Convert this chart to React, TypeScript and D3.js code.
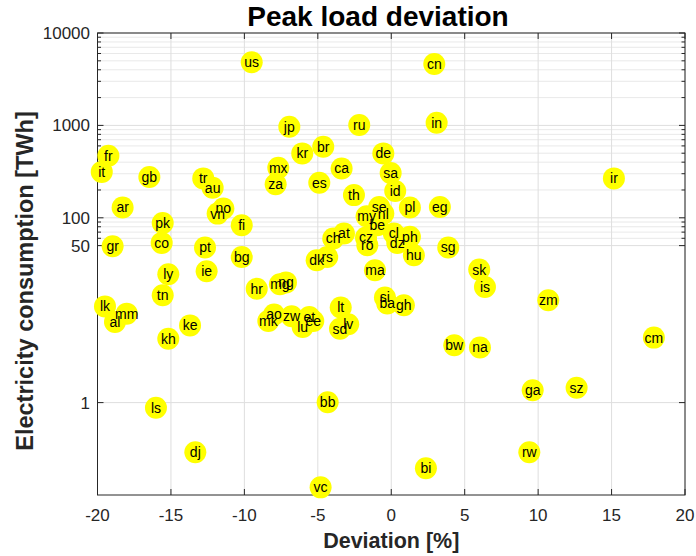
import React from "react";
import * as d3 from "d3";

const codes = ["us","cn","jp","ru","in","fr","it","gb","tr","au","mx","za","kr","br","ca","es","de","sa","id","th","ir","ar","pk","co","gr","vn","no","fi","pt","bg","ie","ly","tn","hr","mg","ng","lk","mm","al","ke","kh","ao","mk","zw","lu","et","ee","lt","lv","sd","ma","si","ba","gh","bw","na","se","my","nl","be","pl","eg","ch","at","cz","ro","cl","dz","ph","hu","sg","dk","rs","sk","is","zm","cm","ls","bb","dj","vc","ga","sz","rw","bi"];
const deviation = [-9.5,2.93,-6.94,-2.18,3.09,-19.26,-19.71,-16.47,-12.8,-12.16,-7.69,-7.87,-6.06,-4.63,-3.38,-4.9,-0.54,-0.04,0.27,-2.54,15.16,-18.29,-15.56,-15.63,-18.97,-11.82,-11.43,-10.18,-12.68,-10.18,-12.57,-15.18,-15.56,-9.16,-7.58,-7.17,-19.49,-18.01,-18.81,-13.7,-15.18,-7.98,-8.37,-6.78,-6.03,-5.58,-5.31,-3.44,-2.93,-3.49,-1.11,-0.43,-0.27,0.86,4.29,6.04,-0.82,-1.68,-0.54,-0.95,1.27,3.31,-3.95,-3.22,-1.72,-1.63,0.18,0.41,1.27,1.54,3.88,-5.08,-4.36,5.99,6.38,10.69,17.88,-16.02,-4.33,-13.34,-4.81,9.63,12.62,9.4,2.36];
const consumption = [4820,4620,966,1008,1067,469,314,277,267,211,347,231,498,586,342,239,498,306,195,176,267,129,88,53.5,49.2,111,126,83,47.6,37.7,26.4,24.5,14.5,17.1,19.1,20.0,11.0,9.18,7.45,6.85,4.92,9.0,7.63,8.59,6.58,8.43,7.63,10.7,7.03,6.3,27,13.7,11.8,11.3,4.17,3.94,131,104,111,83,129,131,59.7,67.6,61.1,50.5,67.6,53.5,62.2,39.4,47.6,34.8,37.7,27.5,17.8,12.8,5.05,0.88,1.01,0.29,0.121,1.36,1.45,0.29,0.195];

const xTicks = [-20,-15,-10,-5,0,5,10,15,20];
const yTicks = [1,50,100,1000,10000];
const yMinor = [60,70,80,90,200,300,400,500,600,700,800,900,2000,3000,4000,5000,6000,7000,8000,9000];

const W = 696, H = 556;
const L = 97.5, R = 685, T = 33, B = 495;
const FONT = "'Liberation Sans', Arial, Helvetica, sans-serif";
const AX = "#262626";

export default function App() {
  const x = d3.scaleLinear().domain([-20, 20]).range([L, R]);
  const y = d3.scaleLog().domain([0.1, 10000]).range([B, T]);
  return (
    <svg width={W} height={H} style={{ position: "absolute", left: 0, top: 0, background: "#fff" }} fontFamily={FONT}>
      <rect x={0} y={0} width={W} height={H} fill="#fff" />
      {yMinor.map((v) => (
        <line key={"mg" + v} x1={L} x2={R} y1={y(v)} y2={y(v)} stroke="#c8c8c8" strokeWidth={0.8} strokeDasharray="1 1" />
      ))}
      {xTicks.map((v) => (
        <line key={"gx" + v} x1={x(v)} x2={x(v)} y1={T} y2={B} stroke="#dedede" strokeWidth={1} />
      ))}
      {yTicks.map((v) => (
        <line key={"gy" + v} x1={L} x2={R} y1={y(v)} y2={y(v)} stroke="#dedede" strokeWidth={1} />
      ))}
      {xTicks.map((v) => (
        <g key={"tx" + v}>
          <line x1={x(v)} x2={x(v)} y1={B} y2={B - 6} stroke={AX} />
          <line x1={x(v)} x2={x(v)} y1={T} y2={T + 6} stroke={AX} />
          <text x={x(v)} y={521} textAnchor="middle" fontSize={17} fill={AX}>{v}</text>
        </g>
      ))}
      {yTicks.map((v) => (
        <g key={"ty" + v}>
          <line x1={L} x2={L + 6} y1={y(v)} y2={y(v)} stroke={AX} />
          <line x1={R} x2={R - 6} y1={y(v)} y2={y(v)} stroke={AX} />
          <text x={90} y={y(v)} dy="0.35em" textAnchor="end" fontSize={17} fill={AX}>{v}</text>
        </g>
      ))}
      {yMinor.map((v) => (
        <g key={"my" + v}>
          <line x1={L} x2={L + 3.5} y1={y(v)} y2={y(v)} stroke={AX} />
          <line x1={R} x2={R - 3.5} y1={y(v)} y2={y(v)} stroke={AX} />
        </g>
      ))}
      <rect x={L} y={T} width={R - L} height={B - T} fill="none" stroke={AX} strokeWidth={1} />
      {codes.map((c, i) => (
        <circle key={"c" + c} cx={x(deviation[i])} cy={y(consumption[i])} r={11} fill="#ffff00" />
      ))}
      {codes.map((c, i) => (
        <text key={"t" + c} x={x(deviation[i])} y={y(consumption[i])} dy="0.35em" textAnchor="middle" fontSize={14} fill="#000">{c}</text>
      ))}
      <text x={378} y={26} textAnchor="middle" fontSize={28} fontWeight="bold" fill="#000">Peak load deviation</text>
      <text x={(L + R) / 2} y={548} textAnchor="middle" fontSize={21.5} fontWeight="bold" fill={AX}>Deviation [%]</text>
      <text transform={`translate(33,281) rotate(-90)`} textAnchor="middle" fontSize={23.5} fontWeight="bold" fill={AX}>Electricity consumption [TWh]</text>
    </svg>
  );
}
